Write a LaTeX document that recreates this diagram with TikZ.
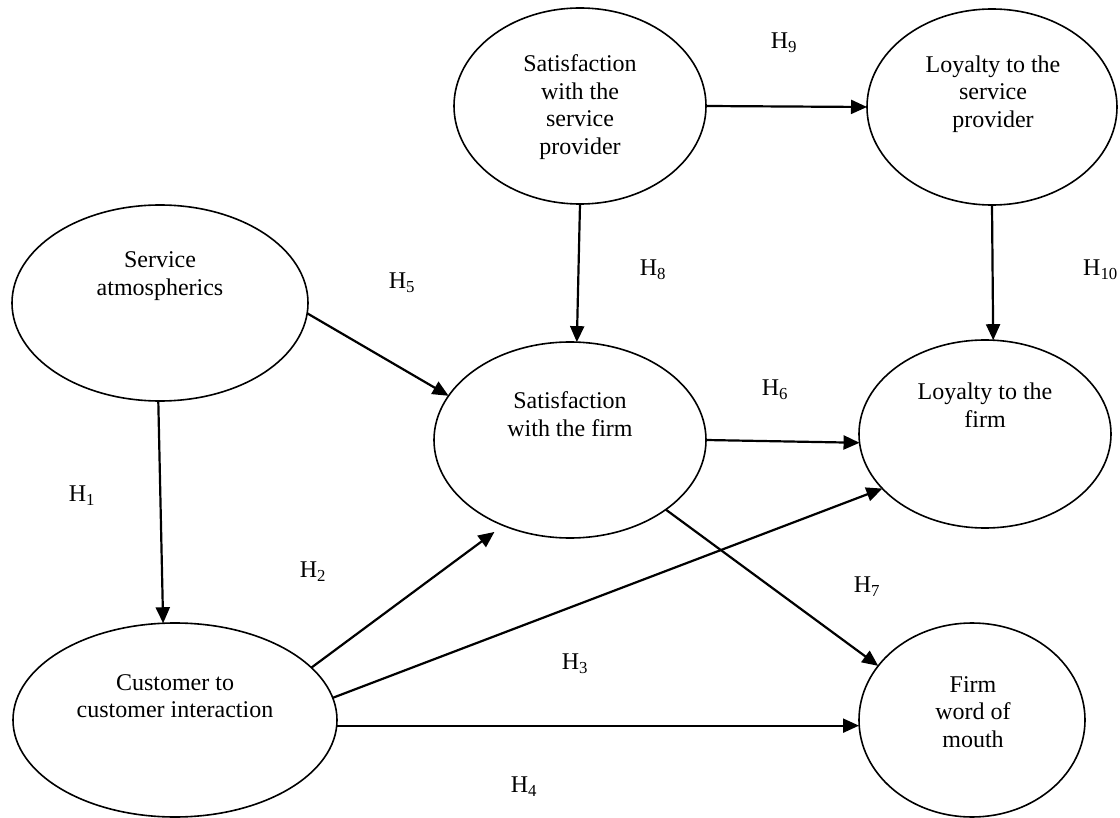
\documentclass[tikz,border=0pt]{standalone}
\usepackage{fontspec}
\setmainfont{Liberation Serif}
\usetikzlibrary{shapes.geometric,arrows.meta}
\begin{document}
\begin{tikzpicture}[x=1pt,y=-1pt,
  ell/.style={draw, ellipse, line width=1.6pt, inner sep=0pt, outer sep=0pt},
  lbl/.style={font=\fontsize{24}{27.5}\selectfont, align=center, inner sep=0pt},
  hyp/.style={font=\fontsize{24}{27.5}\selectfont, inner sep=0pt},
  arr/.style={line width=2.2pt, -{Triangle[length=16pt,width=14pt]}}]
\useasboundingbox (0,0) rectangle (1120,818);

% ellipses
\node[ell, minimum width=296pt, minimum height=196pt] (sa)  at (160,303) {};
\node[ell, minimum width=252pt, minimum height=196pt] (ssp) at (580,106) {};
\node[ell, minimum width=250pt, minimum height=196pt] (lsp) at (992,107) {};
\node[ell, minimum width=272pt, minimum height=196pt] (sf)  at (570,440) {};
\node[ell, minimum width=252pt, minimum height=188pt] (lf)  at (985,434) {};
\node[ell, minimum width=324pt, minimum height=194pt] (cci) at (175,720) {};
\node[ell, minimum width=226pt, minimum height=194pt] (fwm) at (972,720) {};

% texts
\node[lbl] (tsa)  at (160,276) {Service\\atmospherics};
\node[lbl] (tssp) at (580,107) {Satisfaction\\with the\\service\\provider};
\node[lbl] (tlsp) at (993,94)  {Loyalty to the\\service\\provider};
\node[lbl] (tsf)  at (570,414) {Satisfaction\\with the firm};
\node[lbl] (tlf)  at (985,405) {Loyalty to the\\firm};
\node[lbl] (tcci) at (175,696) {Customer to\\customer interaction};
\node[lbl] (tfwm) at (973,712) {Firm\\word of\\mouth};

% connectors
\draw[arr] (sa.269) -- (cci.97.6);
\draw[arr] (sa.-4) -- (sf.160);
\draw[arr] (ssp.south) -- (sf.86.5);
\draw[arr] (ssp.east) -- (lsp.west);
\draw[arr] (lsp.south) -- (lf.85);
\draw[arr] (sf.east) -- (lf.184);
\draw[arr, shorten >=11pt] (cci.21.7) -- (sf.232);
\draw[arr] (cci.8) -- (lf.208.5);
\draw[arr] (cci.-2) -- (cci.-2 -| fwm.west);
\draw[arr] (sf.-36.4) -- (fwm.150);

% hypothesis labels
\node[hyp] (h1) at (82,496)  {H\textsubscript{1}};
\node[hyp] (h2) at (313,572) {H\textsubscript{2}};
\node[hyp] (h3) at (575,664) {H\textsubscript{3}};
\node[hyp] (h4) at (524,787) {H\textsubscript{4}};
\node[hyp] (h5) at (402,283) {H\textsubscript{5}};
\node[hyp] (h6) at (775,390) {H\textsubscript{6}};
\node[hyp] (h7) at (867,587) {H\textsubscript{7}};
\node[hyp] (h8) at (653,270) {H\textsubscript{8}};
\node[hyp] (h9) at (784,43)  {H\textsubscript{9}};
\node[hyp, anchor=east] (h10) at (1118,270) {H\textsubscript{10}};
\end{tikzpicture}
\end{document}
